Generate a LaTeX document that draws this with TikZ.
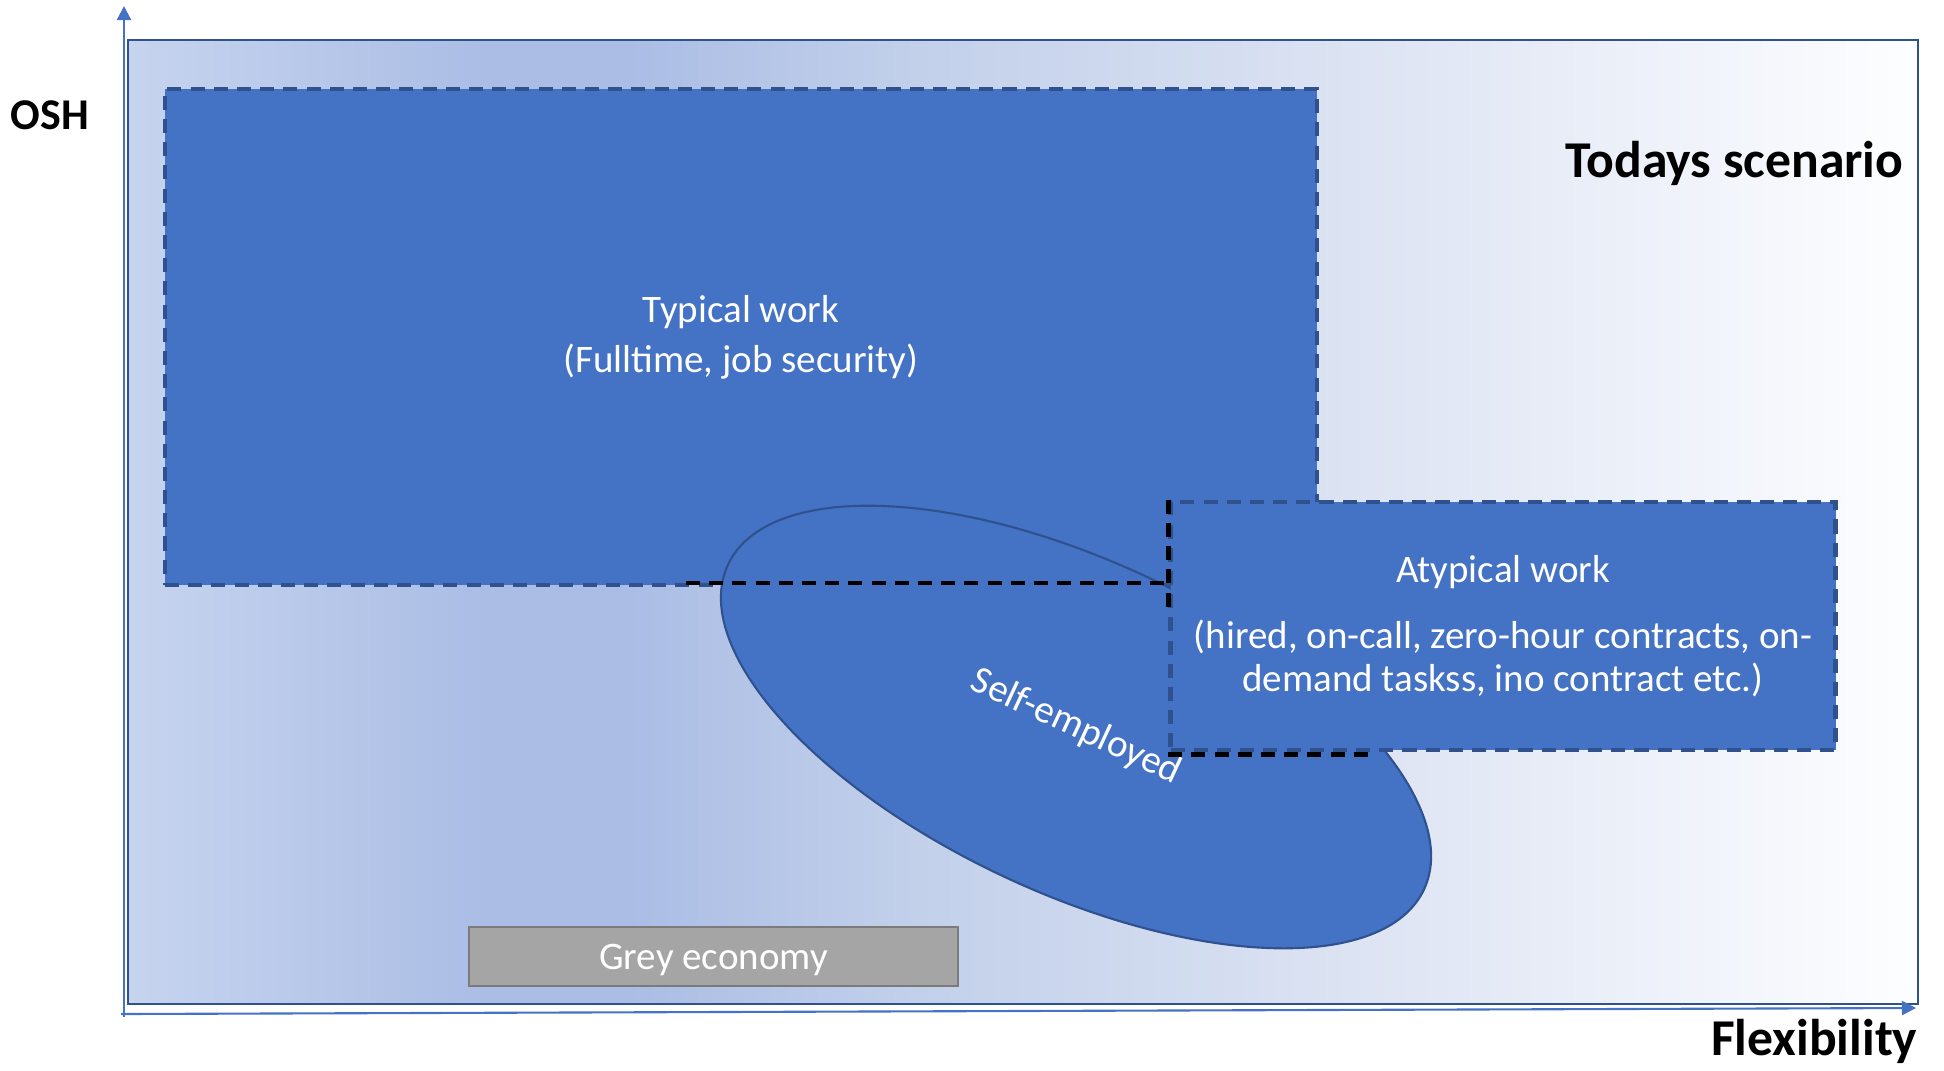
\documentclass[tikz,border=0pt]{standalone}
\usepackage{fontspec}
\setmainfont{Carlito}
\usetikzlibrary{shapes.geometric, arrows.meta}

\definecolor{boxblue}{HTML}{4472C4}
\definecolor{edgeblue}{HTML}{2F528F}
\definecolor{greyfill}{HTML}{A5A5A5}
\definecolor{greyedge}{HTML}{7B7B7B}
\definecolor{bgA}{HTML}{C6D4EE}
\definecolor{bgB}{HTML}{ABBDE5}
\definecolor{bgC}{HTML}{C2D0EA}
\definecolor{bgD}{HTML}{E0E6F4}
\definecolor{bgE}{HTML}{FDFEFF}

\pgfdeclarehorizontalshading{scenefade}{100bp}{color(0bp)=(bgA); color(25bp)=(bgA);
  color(35bp)=(bgB); color(39bp)=(bgB); color(47bp)=(bgC); color(61bp)=(bgD);
  color(75bp)=(bgE); color(100bp)=(bgE)}

\begin{document}
\begin{tikzpicture}[
    scenebox/.style={draw=edgeblue, line width=0.7pt, shading=scenefade, inner sep=0pt},
    workbox/.style={fill=boxblue, draw=edgeblue, line width=1.3pt,
      dash pattern=on 4pt off 2.6pt, text=white, align=center, inner sep=0pt},
    blob/.style={ellipse, fill=boxblue, draw=edgeblue, line width=0.6pt, text=white, inner sep=0pt},
    greybox/.style={fill=greyfill, draw=greyedge, line width=0.8pt, text=white, inner sep=0pt},
    seamdash/.style={draw=black, line width=1.3pt, dash pattern=on 4pt off 2.6pt},
    axis/.style={draw=boxblue, line width=0.6pt, -{Triangle[width=4pt,length=4pt]}},
    bodytext/.style={font=\fontsize{11.1}{12.3}\selectfont},
    boldlabel/.style={font=\fontsize{14.7}{16}\selectfont\bfseries, inner sep=0pt}
  ]
    \useasboundingbox (0,0) rectangle (19.44,10.70);

    % background area
    \node[scenebox, minimum width=17.9cm, minimum height=9.64cm] (scene) at (10.23,5.48) {};

    % work forms
    \node[workbox, bodytext, font=\fontsize{11.1}{14.2}\selectfont,
      minimum width=11.52cm, minimum height=4.96cm] (typical) at (7.41,7.33)
      {Typical work\\(Fulltime, job security)};
    \node[blob, bodytext, rotate=-25, minimum width=7.68cm, minimum height=3.32cm]
      (self) at (10.76,3.43) {Self-employed};
    \node[workbox, bodytext, minimum width=6.65cm, minimum height=2.48cm] (atypical) at (15.03,4.44)
      {Atypical work\\[6.5pt](hired, on-call, zero-hour contracts, on-\\demand taskss, ino contract etc.)};

    \coordinate (seam) at (6.86,4.87);
    \draw[seamdash] (seam) -- (seam -| atypical.west);
    \draw[seamdash] (atypical.north west) -- ++(0,-1.08);
    \draw[seamdash] ([yshift=-0.6pt]atypical.south west) -- ++(2.03,0);

    \node[greybox, bodytext, text depth=0pt, minimum width=4.89cm, minimum height=0.59cm] (grey)
      at (7.135,1.135) {Grey economy};

    % labels
    \node[boldlabel, font=\fontsize{12.5}{14}\selectfont\bfseries] (osh) at (0.50,9.55) {OSH};
    \node[boldlabel, anchor=east] (today) at (19.04,9.07) {Todays scenario};
    \node[boldlabel, anchor=east] (flex) at (19.18,0.29) {Flexibility};

    % axes
    \coordinate (ybase) at (1.24,0.53);
    \coordinate (ytip) at (1.24,10.64);
    \coordinate (xbase) at (1.21,0.56);
    \coordinate (xtip) at (19.16,0.62);
    \draw[axis] (ybase) -- (ytip);
    \draw[axis] (xbase) -- (xtip);
  \end{tikzpicture}
\end{document}
